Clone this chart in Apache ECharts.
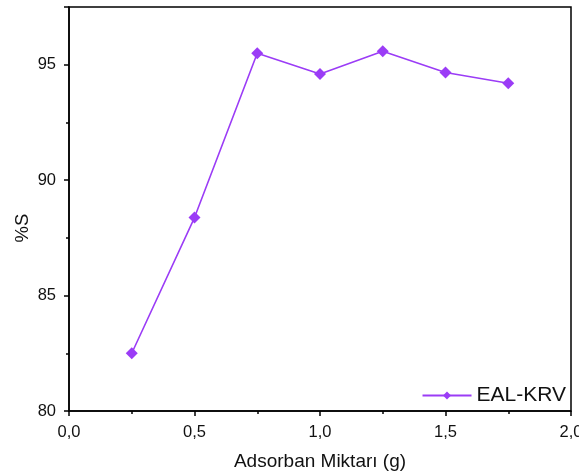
<!DOCTYPE html>
<html><head><meta charset="utf-8">
<script src="https://cdn.jsdelivr.net/npm/echarts@6/dist/echarts.min.js"></script>
<style>html,body{margin:0;padding:0;background:#fff}#c{width:579px;height:476px}</style>
</head><body><div id="c"></div>
<script>
const xValues = [0.25, 0.5, 0.75, 1.0, 1.25, 1.5, 1.75];
const sValues = [82.5, 88.38, 95.5, 94.6, 95.58, 94.66, 94.2];
const seriesName = 'EAL-KRV';
const xTitle = 'Adsorban Miktarı (g)';
const yTitle = '%S';
const color = '#9b3cf6';
const font = 'Liberation Sans, Arial, sans-serif';

const chart = echarts.init(document.getElementById('c'));
chart.setOption({
  animation: false,
  grid: {left: 69, right: 8, top: 7, bottom: 65, outerBoundsMode: 'none', containLabel: false, show: true, borderColor: '#000', borderWidth: 1.5, backgroundColor: 'transparent'},
  legend: {
    data: [seriesName], right: 8, bottom: 65, itemWidth: 49, itemHeight: 10, itemGap: 4,
    textStyle: {fontFamily: font, fontSize: 21, color: '#111'}
  },
  xAxis: {
    type: 'value', min: 0, max: 2, interval: 0.5,
    name: xTitle, nameLocation: 'middle', nameGap: 41, nameMoveOverlap: false,
    nameTextStyle: {fontFamily: font, fontSize: 19, color: '#111'},
    axisLine: {lineStyle: {color: '#000', width: 1.5}},
    axisTick: {inside: false, length: 5, lineStyle: {color: '#000', width: 1.5}},
    minorTick: {show: true, splitNumber: 2, length: 3, lineStyle: {color: '#000', width: 1.5}},
    splitLine: {show: false},
    axisLabel: {fontFamily: font, fontSize: 16.5, color: '#111', margin: 13, formatter: v => v.toFixed(1).replace('.', ',')}
  },
  yAxis: {
    type: 'value', min: 80, max: 97.5, interval: 5,
    name: yTitle, nameLocation: 'middle', nameGap: 37, nameMoveOverlap: false,
    nameTextStyle: {fontFamily: font, fontSize: 18.5, color: '#111', padding: [0, 38, 0, 0]},
    axisLine: {lineStyle: {color: '#000', width: 1.5}},
    axisTick: {inside: false, length: 5, lineStyle: {color: '#000', width: 1.5}},
    minorTick: {show: true, splitNumber: 2, length: 3, lineStyle: {color: '#000', width: 1.5}},
    splitLine: {show: false},
    axisLabel: {fontFamily: font, fontSize: 16.5, color: '#111', margin: 13, showMaxLabel: false}
  },
  series: [{
    name: seriesName, type: 'line',
    data: xValues.map((x, i) => [x, sValues[i]]),
    symbol: 'diamond', symbolSize: 12,
    lineStyle: {color: color, width: 1.6},
    itemStyle: {color: color}
  }]
});
</script></body></html>
